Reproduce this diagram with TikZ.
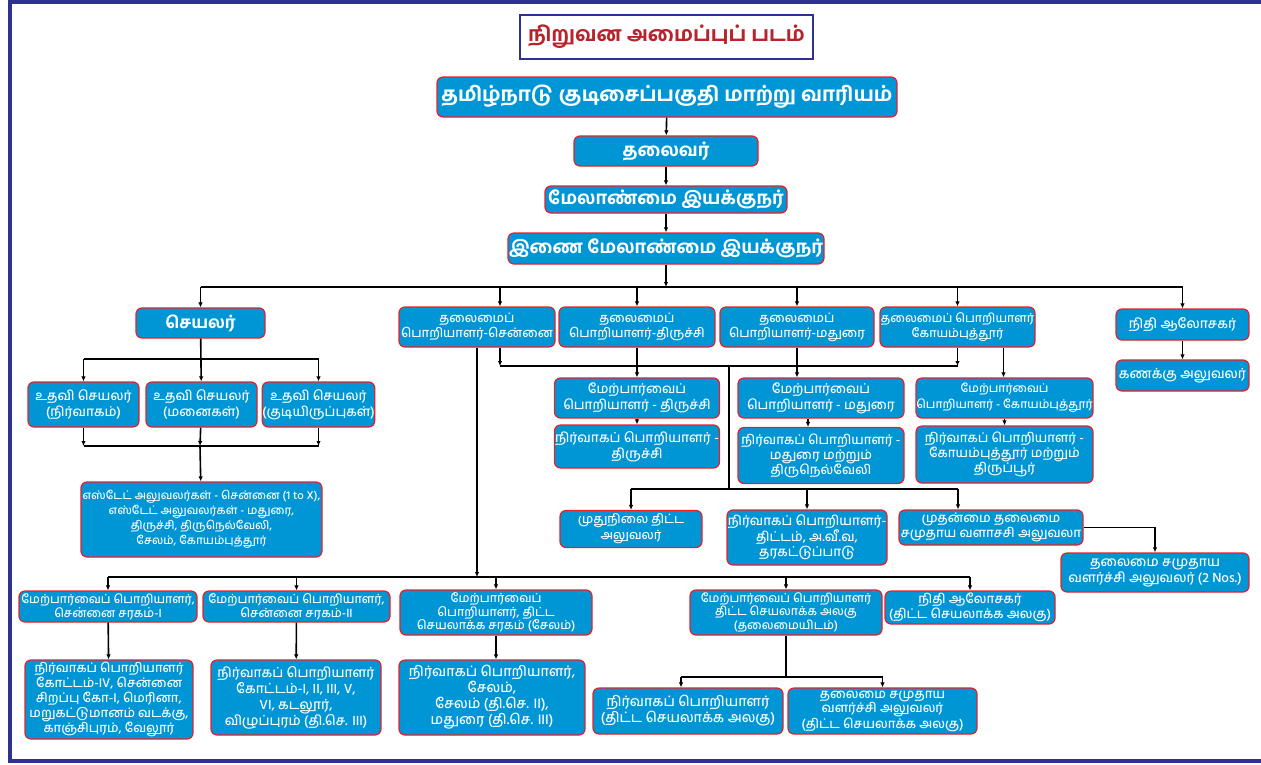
\documentclass[tikz,border=0pt]{standalone}
\usepackage{fontspec}
\setmainfont{Hind Madurai}[Script=Tamil, UprightFont=* Medium, BoldFont=* Bold]
\usetikzlibrary{arrows.meta}
\definecolor{boxblue}{RGB}{0,150,214}
\definecolor{boxred}{RGB}{230,32,40}
\definecolor{navy}{RGB}{46,49,146}
\definecolor{titlered}{RGB}{181,37,43}

\begin{document}
\begin{tikzpicture}[x=1pt, y=-1pt,
  box/.style={draw=boxred, fill=boxblue, text=white, line width=1.2pt,
    rounded corners=6pt, align=center, inner sep=0pt},
  wh/.style 2 args={minimum width=#1pt, minimum height=#2pt},
  fs/.style 2 args={font=\fontsize{#1}{#2}\selectfont},
  bfs/.style 2 args={font=\fontsize{#1}{#2}\selectfont\bfseries},
  ln/.style={line width=1.6pt},
  arr/.style={ln, -{Latex[length=5pt, width=4.5pt]}}]
  \useasboundingbox (0,0) rectangle (1261,764);
  \draw[navy, line width=4pt] (1265,2) -- (9.5,2) -- (9.5,761) -- (1265,761);

  \node[draw=navy, line width=2.5pt, text=titlered, wh={293}{44}, bfs={20.5}{24}] (title) at (666.5,37) {நிறுவன அமைப்புப் படம்};

  \node[box, wh={460}{40}, bfs={20}{24}] (n0) at (667,97) {தமிழ்நாடு குடிசைப்பகுதி மாற்று வாரியம்};
  \node[box, wh={184}{30}, bfs={18}{20}] (n1) at (666,151) {தலைவர்};
  \node[box, wh={242}{27}, bfs={18}{20}] (n2) at (666,199.5) {மேலாண்மை இயக்குநர்};
  \node[box, wh={316}{31}, bfs={18}{20}] (n3) at (666,248.5) {இணை மேலாண்மை இயக்குநர்};

  \node[box, wh={129}{30}, bfs={16.5}{18}] (A) at (200.5,323) {செயலர்};
  \node[box, wh={156}{40}, fs={12.7}{15}] (B) at (477,327) {தலைமைப்\\பொறியாளர்-சென்னை};
  \node[box, wh={156}{40}, fs={12.7}{15}] (C) at (637,327) {தலைமைப்\\பொறியாளர்-திருச்சி};
  \node[box, wh={154}{40}, fs={12.7}{15}] (D) at (797,327) {தலைமைப்\\பொறியாளர்-மதுரை};
  \node[box, wh={155}{40}, fs={12.1}{15}] (E) at (957.5,327) {தலைமைப் பொறியாளர்\\கோயம்புத்தூர்};
  \node[box, wh={133}{31}, fs={13.5}{16}] (F) at (1182.5,324.5) {நிதி ஆலோசகர்};
  \node[box, wh={133}{31}, fs={13.5}{16}] (G) at (1182.5,375.5) {கணக்கு அலுவலர்};

  \node[box, wh={111}{45}, fs={13.3}{16}] (L1) at (83.5,404.5) {உதவி செயலர்\\(நிர்வாகம்)};
  \node[box, wh={111}{45}, fs={13.3}{16}] (L2) at (201.5,404.5) {உதவி செயலர்\\(மனைகள்)};
  \node[box, wh={111}{45}, fs={13.3}{16}] (L3) at (318.5,404.5) {உதவி செயலர்\\(குடியிருப்புகள்)};
  \node[box, wh={241}{75}, fs={11.5}{15}] (L4) at (201.5,519.5) {எஸ்டேட் அலுவலர்கள் - சென்னை (1 to X),\\எஸ்டேட் அலுவலர்கள் - மதுரை,\\திருச்சி, திருநெல்வேலி,\\சேலம், கோயம்புத்தூர்};

  \node[box, wh={165}{40}, fs={13.2}{16}] (S1) at (637,398) {மேற்பார்வைப்\\பொறியாளர் - திருச்சி};
  \node[box, wh={165}{43}, fs={13.4}{16}] (X1) at (637,446.5) {நிர்வாகப் பொறியாளர் -\\திருச்சி};
  \node[box, wh={166}{40}, fs={13.2}{16}] (S2) at (821,398) {மேற்பார்வைப்\\பொறியாளர் - மதுரை};
  \node[box, wh={166}{56}, fs={13}{15}] (X2) at (821,455.5) {நிர்வாகப் பொறியாளர் -\\மதுரை மற்றும்\\திருநெல்வேலி};
  \node[box, wh={177}{40}, fs={11.8}{16}] (S3) at (1004.5,398) {மேற்பார்வைப்\\பொறியாளர் - கோயம்புத்தூர்};
  \node[box, wh={177}{57}, fs={13}{15}] (X3) at (1004.5,454.5) {நிர்வாகப் பொறியாளர் -\\கோயம்புத்தூர் மற்றும்\\திருப்பூர்};

  \node[box, wh={142}{37}, fs={12.5}{16}] (R1) at (631,529) {முதுநிலை திட்ட\\அலுவலர்};
  \node[box, wh={160}{55}, fs={13.2}{15}] (R2) at (807,537.5) {நிர்வாகப் பொறியாளர்-\\திட்டம், அ.வீ.வ,\\தரகட்டுப்பாடு};
  \node[box, wh={184}{35}, fs={13}{15}] (R3) at (991,527.5) {முதன்மை தலைமை\\சமுதாய வளாசசி அலுவலா};
  \node[box, wh={188}{39}, fs={13.5}{16}] (R4) at (1155,572.5) {தலைமை சமுதாய\\வளர்ச்சி அலுவலர் (2 Nos.)};

  \node[box, wh={178}{31}, fs={12}{13.5}] (P1) at (108,606.5) {மேற்பார்வைப் பொறியாளர்,\\சென்னை சரகம்-I};
  \node[box, wh={187}{31}, fs={12.2}{13.5}] (P2) at (296.5,606.5) {மேற்பார்வைப் பொறியாளர்,\\சென்னை சரகம்-II};
  \node[box, wh={192}{45}, fs={12.2}{13.5}] (P3) at (496,612.5) {மேற்பார்வைப்\\பொறியாளர், திட்ட\\செயலாக்க சரகம் (சேலம்)};
  \node[box, wh={192}{45}, fs={12}{13.5}] (P4) at (786,612.5) {மேற்பார்வைப் பொறியாளர்\\திட்ட செயலாக்க அலகு\\(தலைமையிடம்)};
  \node[box, wh={170}{33}, fs={13}{15}] (P5) at (970,607.5) {நிதி ஆலோசகர்\\(திட்ட செயலாக்க அலகு)};

  \node[box, wh={168}{79}, fs={12.8}{15}] (Q1) at (109,699.5) {நிர்வாகப் பொறியாளர்\\கோட்டம்-IV, சென்னை\\சிறப்பு கோ-I, மெரினா,\\மறுகட்டுமானம் வடக்கு,\\காஞ்சிபுரம், வேலூர்};
  \node[box, wh={170}{75}, fs={13.5}{16}] (Q2) at (296,697.5) {நிர்வாகப் பொறியாளர்\\கோட்டம்-I, II, III, V,\\VI, கடலூர்,\\விழுப்புரம் (தி.செ. III)};
  \node[box, wh={186}{75}, fs={14}{16}] (Q3) at (492,697.5) {நிர்வாகப் பொறியாளர்,\\சேலம்,\\சேலம் (தி.செ. II),\\மதுரை (தி.செ. III)};
  \node[box, wh={190}{46}, fs={14}{16}] (Q4) at (688,711) {நிர்வாகப் பொறியாளர்\\(திட்ட செயலாக்க அலகு)};
  \node[box, wh={189}{46}, fs={13}{14}] (Q5) at (882.5,711) {தலைமை சமுதாய\\வளர்ச்சி அலுவலர்\\(திட்ட செயலாக்க அலகு)};

  \draw[arr] (n0) -- (n1);
  \draw[arr] (n1) -- (n2);
  \draw[arr] (n2) -- (n3);
  \coordinate (b0) at (666,287);
  \draw[arr] (n3) -- (b0);
  \draw[ln] (A |- b0) -- (F |- b0);
  \coordinate (Bin) at ([xshift=23pt]B.north);
  \draw[arr] (A |- b0) -- (A);
  \draw[arr] (Bin |- b0) -- (Bin);
  \draw[arr] (C |- b0) -- (C);
  \draw[arr] (D |- b0) -- (D);
  \draw[arr] (E |- b0) -- (E);
  \draw[arr] (F |- b0) -- (F);
  \draw[arr] (F) -- (G);

  \coordinate (b1) at (200,359);
  \coordinate (b2) at (200,446);
  \draw[ln] (L1 |- b1) -- (L3 |- b1);
  \draw[arr] (A) -- (L2);
  \draw[arr] (L1 |- b1) -- (L1);
  \draw[arr] (L3 |- b1) -- (L3);
  \draw[ln] (L1 |- b2) -- (L3 |- b2);
  \draw[arr] (L1) -- (L1 |- b2);
  \draw[arr] (L2) -- (b2);
  \draw[arr] (L3) -- (L3 |- b2);
  \draw[arr] (b2) -- (L4);

  \coordinate (b3) at (729,366);
  \coordinate (Bout) at ([xshift=23pt]B.south);
  \coordinate (Eout) at ([xshift=46pt]E.south);
  \coordinate (S2out) at ([xshift=-13pt]S2.south);
  \draw[arr] (Bout) -- (Bout |- b3);
  \draw[ln] (Bout |- b3) -- (E |- b3);
  \draw[arr] (E) -- (E |- b3);
  \draw[arr] (C) -- (S1);
  \draw[arr] (D) -- (D |- S2.north);
  \draw[arr] (Eout) -- (Eout |- S3.north);
  \draw[arr] (S1) -- (X1);
  \draw[arr] (S2out) -- (S2out |- X2.north);
  \draw[arr] (S3) -- (X3);

  \coordinate (b5) at (729,489);
  \coordinate (R3in) at ([xshift=-33pt]R3.north);
  \draw[ln] (b3) -- (b5);
  \draw[ln] (R1 |- b5) -- (R3in |- b5);
  \draw[arr] (R1 |- b5) -- (R1);
  \draw[arr] (R2 |- b5) -- (R2);
  \draw[arr] (R3in |- b5) -- (R3in);
  \draw[arr] (R3) -| (R4);

  \coordinate (b4) at (477,577);
  \draw[arr] (B) -- (b4);
  \draw[ln, line width=2.4pt] (P1 |- b4) -- (P5 |- b4);
  \draw[arr] (P1 |- b4) -- (P1);
  \draw[arr] (P2 |- b4) -- (P2);
  \draw[arr] (P3 |- b4) -- (P3);
  \draw[arr] (P4 |- b4) -- (P4);
  \draw[arr] (P5 |- b4) -- (P5);
  \draw[arr] (P1) -- (Q1);
  \draw[arr] (P2) -- (Q2);
  \draw[arr] (P3) -- (P3 |- Q3.north);

  \coordinate (b6) at (786,677);
  \coordinate (Q4in) at ([xshift=-7pt]Q4.north);
  \draw[ln] (P4) -- (b6);
  \draw[ln] (Q4in |- b6) -- (Q5 |- b6);
  \draw[arr] (Q4in |- b6) -- (Q4in);
  \draw[arr] (Q5 |- b6) -- (Q5);
\end{tikzpicture}
\end{document}
